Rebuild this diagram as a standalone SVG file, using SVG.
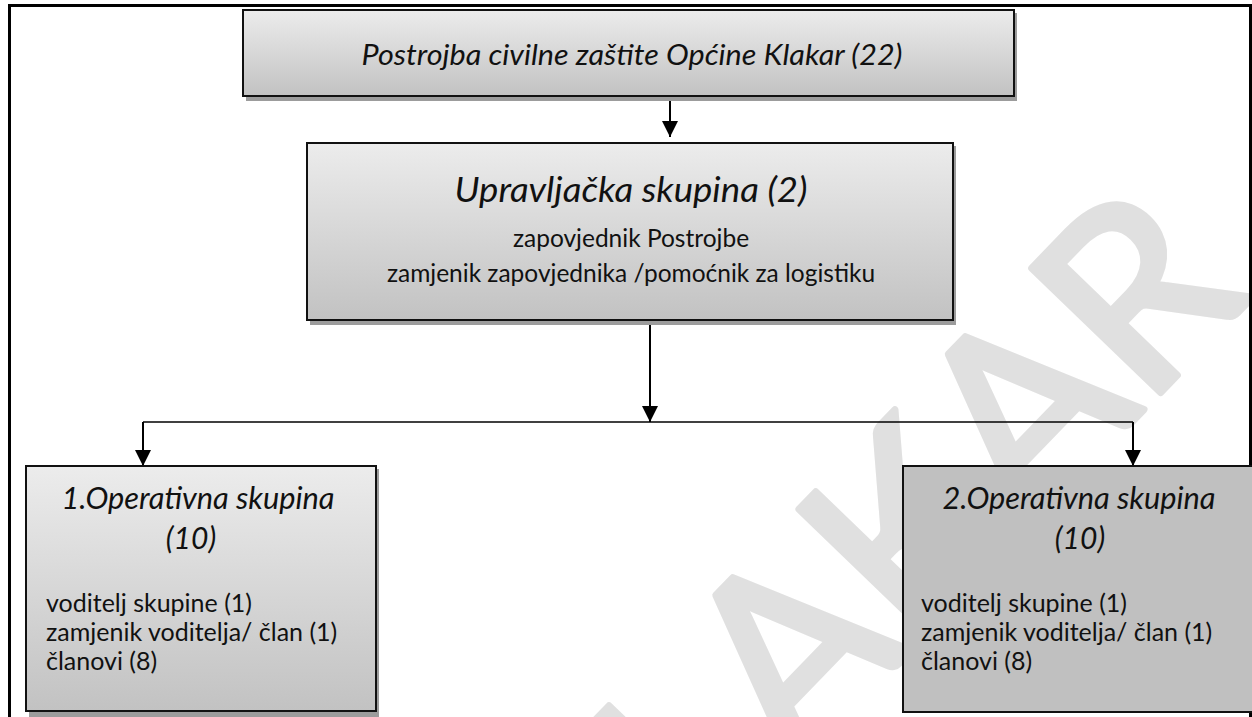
<svg xmlns="http://www.w3.org/2000/svg" width="1252" height="717" viewBox="0 0 1252 717">
<defs>
<linearGradient id="g" x1="0" y1="0" x2="0" y2="1">
<stop offset="0" stop-color="#ececec"/>
<stop offset="1" stop-color="#c2c2c2"/>
</linearGradient>
<marker id="ah" markerUnits="userSpaceOnUse" markerWidth="16" markerHeight="16" refX="15" refY="7.5" orient="auto" viewBox="0 0 15 15">
<path d="M0,0 L15,7.5 L0,15 z" fill="#000"/>
</marker>
<style>
.box{stroke:#111;stroke-width:2}
.sh{fill:#9c9c9c}
.t{font-family:Lato,"Liberation Sans",sans-serif;fill:#111}
.i{font-style:italic}
.c{text-anchor:middle}
.b{font-size:25px}
.con{stroke:#000;fill:none}
</style>
</defs>
<rect width="1252" height="717" fill="#fff"/>
<g id="watermark">
<text x="860" y="666" transform="rotate(-46 860 580)" font-family="Lato,'Liberation Sans',sans-serif" font-size="250" fill="#e0e0e0" stroke="#e0e0e0" stroke-width="7" stroke-linejoin="round" text-anchor="middle">KLAKAR</text>
</g>
<rect x="9.5" y="5.5" width="1241" height="800" fill="none" stroke="#000" stroke-width="3"/>
<g id="connectors">
<path class="con" d="M670,97 V137" stroke-width="2" marker-end="url(#ah)"/>
<path class="con" d="M650,318 V422" stroke-width="2" marker-end="url(#ah)"/>
<path class="con" d="M143,422 H1133" stroke-width="1.6"/>
<path class="con" d="M143,422 V466" stroke-width="2" marker-end="url(#ah)"/>
<path class="con" d="M1133,422 V466" stroke-width="2" marker-end="url(#ah)"/>
</g>
<g id="n_postrojba">
<rect class="sh" x="246" y="13" width="771" height="88"/>
<rect class="box" x="243" y="10" width="771" height="86" fill="url(#g)"/>
<text class="t i c" x="632" y="65" font-size="28" textLength="541" lengthAdjust="spacingAndGlyphs">Postrojba civilne zaštite Općine Klakar (22)</text>
</g>
<g id="n_upravljacka">
<rect class="sh" x="310" y="146" width="646" height="179"/>
<rect class="box" x="307" y="143" width="646" height="177" fill="url(#g)"/>
<text class="t i c" x="631" y="202" font-size="35" textLength="353" lengthAdjust="spacingAndGlyphs">Upravljačka skupina (2)</text>
<text class="t c" x="631" y="247" font-size="24.5">zapovjednik Postrojbe</text>
<text class="t c" x="631" y="282" font-size="24.5">zamjenik zapovjednika /pomoćnik za logistiku</text>
</g>
<g id="n_op1">
<rect class="sh" x="29" y="469" width="350" height="248"/>
<rect class="box" x="26" y="466" width="350" height="245" fill="url(#g)"/>
<text class="t i c" x="198" y="509" font-size="30" textLength="273" lengthAdjust="spacingAndGlyphs">1.Operativna skupina</text>
<text class="t i c" x="191" y="549" font-size="30">(10)</text>
<text class="t b" x="46" y="612">voditelj skupine (1)</text>
<text class="t b" x="46" y="641">zamjenik voditelja/ član (1)</text>
<text class="t b" x="46" y="670">članovi (8)</text>
</g>
<g id="n_op2">
<rect class="box" x="903" y="466" width="360" height="246" fill="#c0c0c0"/>
<text class="t i c" x="1079" y="509" font-size="30" textLength="273" lengthAdjust="spacingAndGlyphs">2.Operativna skupina</text>
<text class="t i c" x="1080" y="549" font-size="30">(10)</text>
<text class="t b" x="921" y="612">voditelj skupine (1)</text>
<text class="t b" x="921" y="641">zamjenik voditelja/ član (1)</text>
<text class="t b" x="921" y="670">članovi (8)</text>
</g>
</svg>
